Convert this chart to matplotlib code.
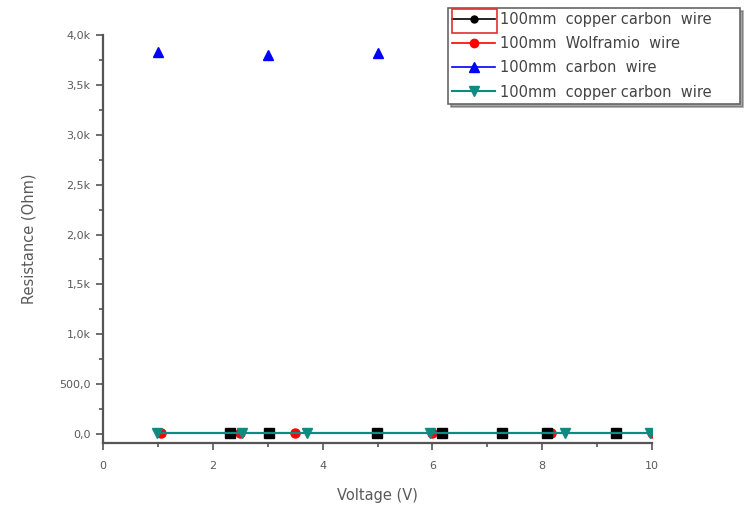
import matplotlib
matplotlib.use("Agg")
import matplotlib.pyplot as plt
from matplotlib.lines import Line2D
from matplotlib.patches import Rectangle

plt.rcParams['font.family'] = ['DejaVu Sans']

# Series data: voltage (V) vs resistance (Ohm)
cu_c_x = [2.32, 3.02, 4.99, 6.18, 7.27, 8.09, 9.34]
cu_c_y = [8, 8, 8, 8, 8, 8, 8]

wolf_x = [1.06, 2.50, 3.50, 5.99, 8.16, 10.0]
wolf_y = [12, 12, 12, 12, 12, 12]

carbon_x = [1.0, 3.0, 5.0]
carbon_y = [3830, 3800, 3820]

cu_c2_x = [0.98, 2.53, 3.71, 5.96, 8.41, 9.96]
cu_c2_y = [6, 6, 6, 6, 6, 6]

labels = ["100mm  copper carbon  wire", "100mm  Wolframio  wire",
          "100mm  carbon  wire", "100mm  copper carbon  wire"]

x_ticks = [0, 2, 4, 6, 8, 10]
y_ticks = [0, 500, 1000, 1500, 2000, 2500, 3000, 3500, 4000]
y_tick_labels = ["0,0", "500,0", "1,0k", "1,5k", "2,0k", "2,5k", "3,0k", "3,5k", "4,0k"]

TEAL = "#0e8a80"
TXT = "#5a5a5a"
AX = "#555555"

fig = plt.figure(figsize=(7.46, 5.09), dpi=100)
ax = fig.add_axes([103 / 746, 1 - 443 / 509, (652 - 103) / 746, (443 - 35) / 509])

ax.plot(cu_c_x, cu_c_y, color="black", lw=1.2, marker="s", ms=6.5, zorder=3)
ax.plot(wolf_x, wolf_y, color="red", lw=1.2, marker="o", ms=6.5, zorder=2)
ax.plot(carbon_x, carbon_y, color="blue", lw=0, marker="^", ms=7.5, zorder=3)
ax.plot(cu_c2_x, cu_c2_y, color=TEAL, lw=1.6, marker="v", ms=7.5, zorder=4)

ax.set_xlim(0, 10)
ax.set_ylim(-90, 4000)
ax.set_xticks(x_ticks)
ax.set_xticks([1, 3, 5, 7, 9], minor=True)
ax.set_yticks(y_ticks)
ax.set_yticklabels(y_tick_labels)
ax.set_yticks([250 + 500 * i for i in range(8)], minor=True)

for s in ["top", "right"]:
    ax.spines[s].set_visible(False)
for s in ["left", "bottom"]:
    ax.spines[s].set_color(AX)
    ax.spines[s].set_linewidth(1.6)

ax.tick_params(which="major", direction="out", length=5, width=1.2, color=AX,
               labelsize=8, labelcolor=TXT, pad=4)
ax.tick_params(axis="x", which="major", pad=8)
ax.tick_params(which="minor", direction="out", length=3, width=1.2, color=AX)

ax.set_xlabel("Voltage (V)", fontsize=10.5, color=TXT, labelpad=12)
ax.set_ylabel("Resistance (Ohm)", fontsize=10.5, color=TXT, labelpad=16)

handles = [
    Line2D([], [], color="black", lw=1.2, marker="o", ms=5),
    Line2D([], [], color="red", lw=1.2, marker="o", ms=6),
    Line2D([], [], color="blue", lw=1.2, marker="^", ms=7),
    Line2D([], [], color=TEAL, lw=1.5, marker="v", ms=7),
]
leg = fig.legend(handles, labels, loc="upper left", mode="expand",
                 bbox_to_anchor=(448 / 746, 1 - 98 / 509, 292 / 746, 90 / 509),
                 fontsize=10.5, frameon=True, fancybox=False, shadow=True,
                 handlelength=2.9, handletextpad=0.4, borderpad=0.3,
                 labelspacing=0.62, borderaxespad=0)
leg.get_frame().set_edgecolor("#666666")
leg.get_frame().set_linewidth(1.2)
for t in leg.get_texts():
    t.set_color("#444444")

# selection outline around the first legend symbol
fig.patches.append(Rectangle((452 / 746, 1 - 33 / 509), 45 / 746, 24 / 509,
                             transform=fig.transFigure, fill=False,
                             edgecolor="#e03030", lw=1.2, zorder=10))

fig.savefig("out.png", dpi=100)
